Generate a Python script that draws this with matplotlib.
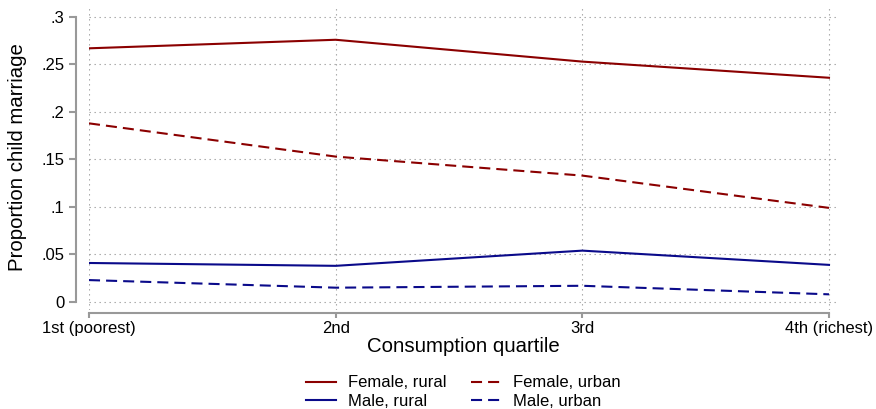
import matplotlib.pyplot as plt

quartiles = ['1st (poorest)', '2nd', '3rd', '4th (richest)']
female_rural = [0.267, 0.276, 0.253, 0.236]
female_urban = [0.188, 0.153, 0.133, 0.099]
male_rural = [0.041, 0.038, 0.054, 0.039]
male_urban = [0.023, 0.015, 0.017, 0.008]
yticks = [0, 0.05, 0.1, 0.15, 0.2, 0.25, 0.3]
ylabels = ['0', '.05', '.1', '.15', '.2', '.25', '.3']

plt.rcParams['font.family'] = ['Liberation Sans', 'DejaVu Sans']

fig = plt.figure(figsize=(8.76, 4.09), dpi=100)
W, H = 876, 409
ax = fig.add_axes([89 / W, 1 - 310 / H, (838 - 89) / W, (310 - 5) / H])

x = [1, 2, 3, 4]
red = '#8B0000'
blue = '#0A0A8A'
dash = (0, (5.3, 2.9))
ax.plot(x, female_rural, color=red, lw=1.5, label='Female, rural')
ax.plot(x, male_rural, color=blue, lw=1.5, label='Male, rural')
ax.plot(x, female_urban, color=red, lw=1.5, ls=dash, label='Female, urban')
ax.plot(x, male_urban, color=blue, lw=1.5, ls=dash, label='Male, urban')

ax.set_xlim(1, 4 + 9 / 740 * 3)
ax.set_ylim(-0.0085, 0.3126)
ax.set_xticks(x)
ax.set_xticklabels(quartiles)
ax.set_yticks(yticks)
ax.set_yticklabels(ylabels)

ax.grid(True, color='#a0a0a0', ls=(0, (1.2, 3.3)), lw=0.8)
ax.set_axisbelow(True)

for s in ['top', 'right']:
    ax.spines[s].set_visible(False)
for s in ['left', 'bottom']:
    ax.spines[s].set_color('#999999')
    ax.spines[s].set_linewidth(1.5)
ax.spines['left'].set_position(('outward', 9.4))
ax.spines['bottom'].set_position(('outward', 2.2))
ax.spines['left'].set_bounds(0, 0.3)
ax.spines['bottom'].set_bounds(1, 4)
ax.tick_params(colors='#999999', labelcolor='black', width=1.5, labelsize=12)
ax.tick_params(axis='y', length=5, pad=3.5)
ax.tick_params(axis='x', length=3.5, pad=2)

ax.set_ylabel('Proportion child marriage', fontsize=14.7, labelpad=10)
ax.set_xlabel('Consumption quartile', fontsize=14.7, labelpad=1)

fig.legend(loc='center', bbox_to_anchor=(463 / W, 1 - 392 / H), ncol=2,
           frameon=False, fontsize=12, handlelength=1.8, columnspacing=1.45,
           labelspacing=0.2, handletextpad=0.72, borderpad=0)

fig.savefig('out.png', dpi=100)
